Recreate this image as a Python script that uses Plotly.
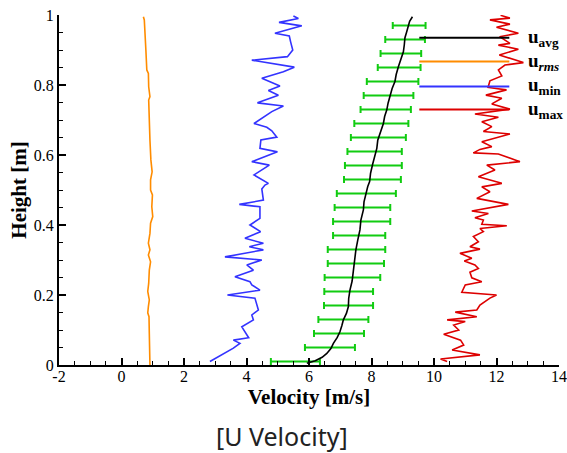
import plotly.graph_objects as go

# ---- profile data: velocity [m/s] vs height [m] ----
avg_h = [0.005, 0.012, 0.022, 0.033, 0.047, 0.062, 0.078, 0.095, 0.112, 0.129, 0.148, 0.167,
         0.19, 0.214, 0.24, 0.271, 0.3, 0.329, 0.357, 0.386, 0.414, 0.443, 0.466, 0.49, 0.51,
         0.524, 0.548, 0.575, 0.6, 0.619, 0.642, 0.662, 0.69, 0.71, 0.729, 0.748, 0.767, 0.79,
         0.81, 0.83, 0.852, 0.875, 0.895, 0.915, 0.935, 0.95, 0.967, 0.982, 0.995]
avg_u = [5.93, 6.2, 6.42, 6.57, 6.7, 6.78, 6.9, 6.99, 7.05, 7.1, 7.2, 7.26,
         7.27, 7.31, 7.38, 7.42, 7.45, 7.5, 7.56, 7.63, 7.66, 7.74, 7.76, 7.82, 7.88,
         7.94, 7.97, 8.04, 8.11, 8.17, 8.2, 8.27, 8.38, 8.42, 8.49, 8.53, 8.59, 8.66,
         8.75, 8.79, 8.86, 8.95, 9.02, 9.05, 9.07, 9.12, 9.18, 9.22, 9.31]

rms_h = [0.0, 0.062, 0.09, 0.138, 0.149, 0.167, 0.186, 0.21, 0.233, 0.271, 0.295, 0.314, 0.329,
         0.348, 0.376, 0.405, 0.424, 0.452, 0.486, 0.5, 0.529, 0.552, 0.586, 0.643, 0.69,
         0.757, 0.767, 0.795, 0.833, 0.843, 0.9, 0.967, 0.986, 0.995]
rms_u = [0.91, 0.91, 0.89, 0.88, 0.84, 0.86, 0.89, 0.84, 0.87, 0.89, 0.93, 0.86, 0.91,
         0.86, 0.91, 0.93, 1.0, 0.97, 0.99, 0.93, 0.93, 0.98, 0.94, 0.91, 0.9,
         0.87, 0.91, 0.87, 0.86, 0.81, 0.78, 0.74, 0.73, 0.7]

min_h = [0.01, 0.048, 0.062, 0.071, 0.078, 0.109, 0.129, 0.143, 0.157, 0.191, 0.2, 0.214,
         0.229, 0.238, 0.252, 0.271, 0.286, 0.3, 0.309, 0.329, 0.338, 0.348, 0.362, 0.381,
         0.4, 0.419, 0.452, 0.459, 0.471, 0.503, 0.514, 0.519, 0.543, 0.571, 0.581, 0.609,
         0.619, 0.643, 0.651, 0.669, 0.679, 0.69, 0.724, 0.74, 0.749, 0.771, 0.784, 0.797,
         0.819, 0.838, 0.851, 0.871, 0.881, 0.9, 0.924, 0.94, 0.948, 0.969, 0.979, 0.99, 0.997]
min_u = [2.83, 3.58, 3.79, 3.58, 4.07, 3.85, 4.22, 4.17, 4.38, 4.27, 3.39, 4.43,
         4.17, 4.11, 3.63, 4.22, 4.01, 4.49, 3.31, 4.54, 4.09, 4.54, 3.95, 4.45,
         4.11, 4.43, 4.43, 3.77, 4.54, 4.49, 4.59, 4.7, 4.24, 4.73, 4.17, 4.99,
         4.43, 4.46, 4.97, 4.81, 4.65, 4.24, 4.81, 5.18, 4.35, 5.02, 4.7, 5.07,
         4.49, 5.18, 5.53, 4.17, 5.31, 5.48, 5.41, 5.37, 4.91, 5.77, 5.04, 5.66, 5.5]

max_h = [0.01, 0.017, 0.029, 0.043, 0.057, 0.071, 0.088, 0.1, 0.114, 0.124, 0.129, 0.138,
         0.151, 0.157, 0.171, 0.191, 0.2, 0.208, 0.229, 0.238, 0.249, 0.265, 0.276, 0.286,
         0.297, 0.305, 0.319, 0.331, 0.338, 0.352, 0.367, 0.381, 0.39, 0.398, 0.402, 0.414,
         0.421, 0.433, 0.44, 0.459, 0.476, 0.495, 0.509, 0.519, 0.538, 0.557, 0.571, 0.581,
         0.603, 0.606, 0.616, 0.624, 0.638, 0.66, 0.667, 0.681, 0.695, 0.708, 0.717, 0.731,
         0.746, 0.762, 0.771, 0.786, 0.793, 0.812, 0.826, 0.843, 0.857, 0.864, 0.886, 0.902,
         0.914, 0.919, 0.938, 0.948, 0.965, 0.974, 0.986, 0.991, 0.999]
max_u = [10.42, 10.21, 11.47, 10.58, 10.95, 10.85, 10.31, 10.79, 10.63, 11.0, 10.42, 11.37,
         10.68, 11.37, 11.47, 11.79, 12.0, 10.89, 11.0, 11.53, 11.21, 11.15, 11.42, 11.31,
         10.97, 11.21, 10.83, 11.47, 11.15, 11.42, 11.26, 11.58, 11.47, 12.33, 11.53, 11.58,
         11.31, 11.74, 11.21, 12.38, 11.37, 11.79, 11.53, 12.17, 11.42, 11.95, 11.69, 12.75,
         12.06, 11.26, 11.47, 11.85, 11.53, 12.43, 11.58, 11.85, 11.53, 12.06, 11.31, 12.43,
         11.85, 12.17, 11.66, 12.32, 11.73, 11.79, 12.17, 12.06, 12.27, 12.86, 12.09, 12.7,
         12.06, 12.43, 12.1, 12.7, 12.0, 12.43, 11.79, 12.43, 12.13]

# spread of the mean at sampled heights (lower / upper bound)
bar_h = [0.01, 0.05, 0.09, 0.13, 0.17, 0.21, 0.25, 0.29, 0.33, 0.37, 0.41, 0.45, 0.49,
         0.53, 0.57, 0.61, 0.65, 0.69, 0.73, 0.77, 0.81, 0.85, 0.89, 0.93, 0.97]
bar_lo = [4.78, 5.87, 6.16, 6.30, 6.48, 6.49, 6.50, 6.60, 6.60, 6.77, 6.77, 6.82, 6.89,
          7.12, 7.15, 7.23, 7.34, 7.45, 7.65, 7.75, 7.85, 8.20, 8.29, 8.44, 8.68]
bar_hi = [6.35, 7.47, 7.76, 7.90, 8.05, 8.05, 8.28, 8.40, 8.44, 8.44, 8.60, 8.60, 8.78,
          8.94, 8.97, 8.97, 9.10, 9.18, 9.26, 9.34, 9.50, 9.57, 9.59, 9.71, 9.73]

# key entries drawn inside the plot
key_names = ["u<sub>avg</sub>", "u<sub><i>rms</i></sub>", "u<sub>min</sub>", "u<sub>max</sub>"]
key_colors = ["#000000", "#ff8c00", "#3333ff", "#dd0000"]
key_h = [0.935, 0.867, 0.796, 0.730]
key_x = [9.53, 12.41]
key_label_x = 12.93

x_tickvals = [-2, 0, 2, 4, 6, 8, 10, 12, 14]
x_ticktext = ["-2", "0", "2", "4", "6", "8", "10", "12", "14"]
y_tickvals = [0, 0.2, 0.4, 0.6, 0.8, 1]
y_ticktext = ["0", "0.2", "0.4", "0.6", "0.8", "1"]

SERIF = "'Liberation Serif', 'Times New Roman', 'DejaVu Serif', serif"

fig = go.Figure()

centers = [(a + b) / 2 for a, b in zip(bar_lo, bar_hi)]
halfw = [(b - a) / 2 for a, b in zip(bar_lo, bar_hi)]
fig.add_trace(go.Scatter(
    x=centers, y=bar_h, mode="markers",
    marker=dict(size=2, color="rgba(0,0,0,0)"),
    error_x=dict(type="data", array=halfw, symmetric=True,
                 color="#11cc11", thickness=2, width=3.5),
    hoverinfo="skip"))

fig.add_trace(go.Scatter(x=rms_u, y=rms_h, mode="lines",
                         line=dict(color="#ff8c00", width=1.6)))
fig.add_trace(go.Scatter(x=min_u, y=min_h, mode="lines",
                         line=dict(color="#3333ff", width=1.6)))
fig.add_trace(go.Scatter(x=max_u, y=max_h, mode="lines",
                         line=dict(color="#dd0000", width=1.6)))
fig.add_trace(go.Scatter(x=avg_u, y=avg_h, mode="lines",
                         line=dict(color="#000000", width=1.6)))

for name, col, h in zip(key_names, key_colors, key_h):
    fig.add_trace(go.Scatter(x=key_x, y=[h, h], mode="lines",
                             line=dict(color=col, width=2), hoverinfo="skip"))
    fig.add_annotation(x=key_label_x, y=h, xref="x", yref="y", text=name,
                       showarrow=False, xanchor="left", yanchor="middle",
                       font=dict(family=SERIF, size=19, color="black", weight="bold"))

fig.add_annotation(x=0.446, y=-0.203, xref="paper", yref="paper", text="[U Velocity]",
                   showarrow=False, xanchor="center", yanchor="middle",
                   font=dict(family="Noto Sans", size=25, color="#222222"))

axis_common = dict(showgrid=False, zeroline=False, showline=True, linecolor="black",
                   linewidth=2, ticks="inside", ticklen=7, tickwidth=1.5, tickcolor="black",
                   tickfont=dict(family=SERIF, size=16, color="black"), mirror=False)

fig.update_xaxes(range=[-2, 14], tickmode="array", tickvals=x_tickvals, ticktext=x_ticktext,
                 ticklabelstandoff=-4,
                 minor=dict(dtick=0.5, tick0=0, ticks="inside", ticklen=4, tickwidth=1,
                            tickcolor="black"),
                 title=dict(text="Velocity [m/s]", standoff=0,
                            font=dict(family=SERIF, size=21, color="black", weight="bold")),
                 **axis_common)
fig.update_yaxes(range=[0, 1], tickmode="array", tickvals=y_tickvals, ticktext=y_ticktext,
                 minor=dict(dtick=0.05, tick0=0, ticks="inside", ticklen=4, tickwidth=1,
                            tickcolor="black"),
                 title=dict(text="Height [m]", standoff=1,
                            font=dict(family=SERIF, size=21, color="black", weight="bold")),
                 **axis_common)

fig.update_layout(width=567, height=453, showlegend=False,
                  font=dict(family=SERIF),
                  margin=dict(l=59, r=8, t=15, b=88, autoexpand=False),
                  plot_bgcolor="white", paper_bgcolor="white")

fig.write_html("out.html")
